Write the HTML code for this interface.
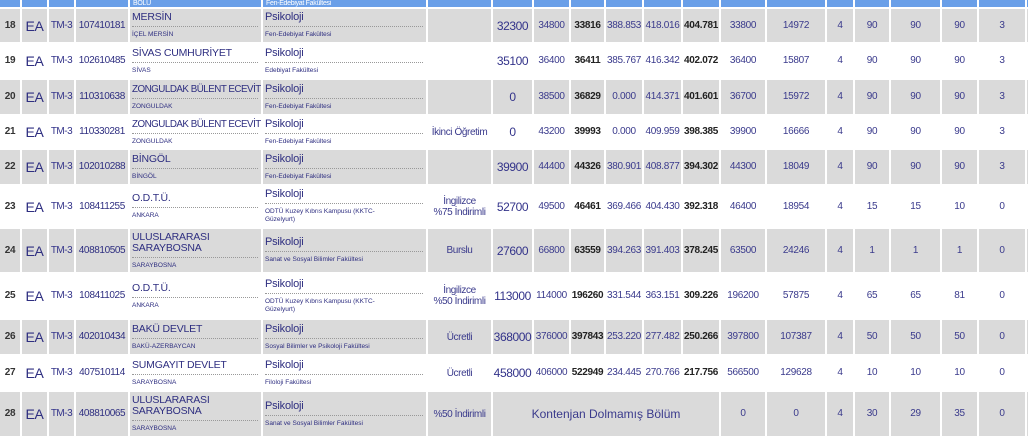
<!DOCTYPE html>
<html><head><meta charset="utf-8"><style>
*{margin:0;padding:0;box-sizing:border-box}
body{width:1030px;height:438px;overflow:hidden;background:#fff;font-family:"Liberation Sans","DejaVu Sans",sans-serif;color:#3a3a8c}
table{position:absolute;left:0;top:0;width:1030px;table-layout:fixed;border-collapse:separate;border-spacing:0}
td{border-right:2px solid #fff;border-bottom:2px solid #fff;text-align:center;vertical-align:middle;font-size:10px;letter-spacing:-0.3px;overflow:hidden;white-space:nowrap;padding:0;line-height:12px}
tr.g td{background:#dadada}
tr.h td{background:#6a9fe8;height:9px;font-size:7px;color:#fff;line-height:7px;vertical-align:bottom;text-align:left;padding-left:3px}
.n{font-weight:bold;color:#333;font-size:10px}
.ea{font-size:14px;color:#2e2e80}
.tm{font-size:10px;color:#33338a;letter-spacing:-0.5px}
.id{font-size:10px;color:#2e2e80;letter-spacing:-0.4px}
.big{font-size:12px;color:#33338a;letter-spacing:-0.4px}
.bd{font-weight:bold;color:#222}
td.u,td.d{text-align:left;padding-left:2px;white-space:nowrap}
.t{font-size:10.5px;color:#2e2e80;line-height:11px;padding-bottom:3px;border-bottom:1px dotted #999;margin-right:3px;letter-spacing:-0.2px}
.t.s{font-size:9.8px;letter-spacing:-0.5px}
.b{font-size:6.5px;color:#2e2e80;line-height:8px;padding-top:4px;letter-spacing:0}
td.d .t{font-size:11px}
.ty{line-height:11px;letter-spacing:-0.4px}
</style></head><body>
<table>
<colgroup>
<col style="width:22px"><col style="width:27px"><col style="width:27px"><col style="width:54px"><col style="width:133px"><col style="width:165px"><col style="width:65px"><col style="width:41px"><col style="width:37px"><col style="width:35px"><col style="width:38px"><col style="width:39px"><col style="width:38px"><col style="width:46px"><col style="width:60px"><col style="width:28px"><col style="width:36px"><col style="width:51px"><col style="width:37px"><col style="width:48px"><col style="width:3px">
</colgroup>
<tr class="h"><td></td><td></td><td></td><td></td><td>BOLU</td><td>Fen-Edebiyat Fakültesi</td><td></td><td></td><td></td><td></td><td></td><td></td><td></td><td></td><td></td><td></td><td></td><td></td><td></td><td></td><td></td></tr>

<tr class="g" style="height:35px"><td class="n">18</td><td class="ea">EA</td><td class="tm">TM-3</td><td class="id">107410181</td><td class="u"><div class="t">MERSİN</div><div class="b">İÇEL MERSİN</div></td><td class="d"><div class="t">Psikoloji</div><div class="b">Fen-Edebiyat Fakültesi</div></td><td class="ty"></td><td class="big">32300</td><td>34800</td><td class="bd">33816</td><td>388.853</td><td>418.016</td><td class="bd">404.781</td><td>33800</td><td>14972</td><td>4</td><td>90</td><td>90</td><td>90</td><td>3</td><td></td></tr>

<tr style="height:36px"><td class="n">19</td><td class="ea">EA</td><td class="tm">TM-3</td><td class="id">102610485</td><td class="u"><div class="t">SİVAS CUMHURİYET</div><div class="b">SİVAS</div></td><td class="d"><div class="t">Psikoloji</div><div class="b">Edebiyat Fakültesi</div></td><td class="ty"></td><td class="big">35100</td><td>36400</td><td class="bd">36411</td><td>385.767</td><td>416.342</td><td class="bd">402.072</td><td>36400</td><td>15807</td><td>4</td><td>90</td><td>90</td><td>90</td><td>3</td><td></td></tr>

<tr class="g" style="height:36px"><td class="n">20</td><td class="ea">EA</td><td class="tm">TM-3</td><td class="id">110310638</td><td class="u"><div class="t s">ZONGULDAK BÜLENT ECEVİT</div><div class="b">ZONGULDAK</div></td><td class="d"><div class="t">Psikoloji</div><div class="b">Fen-Edebiyat Fakültesi</div></td><td class="ty"></td><td class="big">0</td><td>38500</td><td class="bd">36829</td><td>0.000</td><td>414.371</td><td class="bd">401.601</td><td>36700</td><td>15972</td><td>4</td><td>90</td><td>90</td><td>90</td><td>3</td><td></td></tr>

<tr style="height:34px"><td class="n">21</td><td class="ea">EA</td><td class="tm">TM-3</td><td class="id">110330281</td><td class="u"><div class="t s">ZONGULDAK BÜLENT ECEVİT</div><div class="b">ZONGULDAK</div></td><td class="d"><div class="t">Psikoloji</div><div class="b">Fen-Edebiyat Fakültesi</div></td><td class="ty">İkinci Öğretim</td><td class="big">0</td><td>43200</td><td class="bd">39993</td><td>0.000</td><td>409.959</td><td class="bd">398.385</td><td>39900</td><td>16666</td><td>4</td><td>90</td><td>90</td><td>90</td><td>3</td><td></td></tr>

<tr class="g" style="height:36px"><td class="n">22</td><td class="ea">EA</td><td class="tm">TM-3</td><td class="id">102010288</td><td class="u"><div class="t">BİNGÖL</div><div class="b">BİNGÖL</div></td><td class="d"><div class="t">Psikoloji</div><div class="b">Fen-Edebiyat Fakültesi</div></td><td class="ty"></td><td class="big">39900</td><td>44400</td><td class="bd">44326</td><td>380.901</td><td>408.877</td><td class="bd">394.302</td><td>44300</td><td>18049</td><td>4</td><td>90</td><td>90</td><td>90</td><td>3</td><td></td></tr>

<tr style="height:43px"><td class="n">23</td><td class="ea">EA</td><td class="tm">TM-3</td><td class="id">108411255</td><td class="u"><div class="t">O.D.T.Ü.</div><div class="b">ANKARA</div></td><td class="d"><div class="t">Psikoloji</div><div class="b">ODTÜ Kuzey Kıbrıs Kampusu (KKTC-<br>Güzelyurt)</div></td><td class="ty">İngilizce<br>%75 İndirimli</td><td class="big">52700</td><td>49500</td><td class="bd">46461</td><td>369.466</td><td>404.430</td><td class="bd">392.318</td><td>46400</td><td>18954</td><td>4</td><td>15</td><td>15</td><td>10</td><td>0</td><td></td></tr>

<tr class="g" style="height:45px"><td class="n">24</td><td class="ea">EA</td><td class="tm">TM-3</td><td class="id">408810505</td><td class="u"><div class="t">ULUSLARARASI<br>SARAYBOSNA</div><div class="b">SARAYBOSNA</div></td><td class="d"><div class="t">Psikoloji</div><div class="b">Sanat ve Sosyal Bilimler Fakültesi</div></td><td class="ty">Burslu</td><td class="big">27600</td><td>66800</td><td class="bd">63559</td><td>394.263</td><td>391.403</td><td class="bd">378.245</td><td>63500</td><td>24246</td><td>4</td><td>1</td><td>1</td><td>1</td><td>0</td><td></td></tr>

<tr style="height:46px"><td class="n">25</td><td class="ea">EA</td><td class="tm">TM-3</td><td class="id">108411025</td><td class="u"><div class="t">O.D.T.Ü.</div><div class="b">ANKARA</div></td><td class="d"><div class="t">Psikoloji</div><div class="b">ODTÜ Kuzey Kıbrıs Kampusu (KKTC-<br>Güzelyurt)</div></td><td class="ty">İngilizce<br>%50 İndirimli</td><td class="big">113000</td><td>114000</td><td class="bd">196260</td><td>331.544</td><td>363.151</td><td class="bd">309.226</td><td>196200</td><td>57875</td><td>4</td><td>65</td><td>65</td><td>81</td><td>0</td><td></td></tr>

<tr class="g" style="height:36px"><td class="n">26</td><td class="ea">EA</td><td class="tm">TM-3</td><td class="id">402010434</td><td class="u"><div class="t">BAKÜ DEVLET</div><div class="b">BAKÜ-AZERBAYCAN</div></td><td class="d"><div class="t">Psikoloji</div><div class="b">Sosyal Bilimler ve Psikoloji Fakültesi</div></td><td class="ty">Ücretli</td><td class="big">368000</td><td>376000</td><td class="bd">397843</td><td>253.220</td><td>277.482</td><td class="bd">250.266</td><td>397800</td><td>107387</td><td>4</td><td>50</td><td>50</td><td>50</td><td>0</td><td></td></tr>

<tr style="height:36px"><td class="n">27</td><td class="ea">EA</td><td class="tm">TM-3</td><td class="id">407510114</td><td class="u"><div class="t">SUMGAYIT DEVLET</div><div class="b">SARAYBOSNA</div></td><td class="d"><div class="t">Psikoloji</div><div class="b">Filoloji Fakültesi</div></td><td class="ty">Ücretli</td><td class="big">458000</td><td>406000</td><td class="bd">522949</td><td>234.445</td><td>270.766</td><td class="bd">217.756</td><td>566500</td><td>129628</td><td>4</td><td>10</td><td>10</td><td>10</td><td>0</td><td></td></tr>

<tr class="g" style="height:46px"><td class="n">28</td><td class="ea">EA</td><td class="tm">TM-3</td><td class="id">408810065</td><td class="u"><div class="t">ULUSLARARASI<br>SARAYBOSNA</div><div class="b">SARAYBOSNA</div></td><td class="d"><div class="t">Psikoloji</div><div class="b">Sanat ve Sosyal Bilimler Fakültesi</div></td><td class="ty">%50 İndirimli</td><td colspan="6" style="font-size:12px;letter-spacing:0">Kontenjan Dolmamış Bölüm</td><td>0</td><td>0</td><td>4</td><td>30</td><td>29</td><td>35</td><td>0</td><td></td></tr>
</table>
</body></html>
